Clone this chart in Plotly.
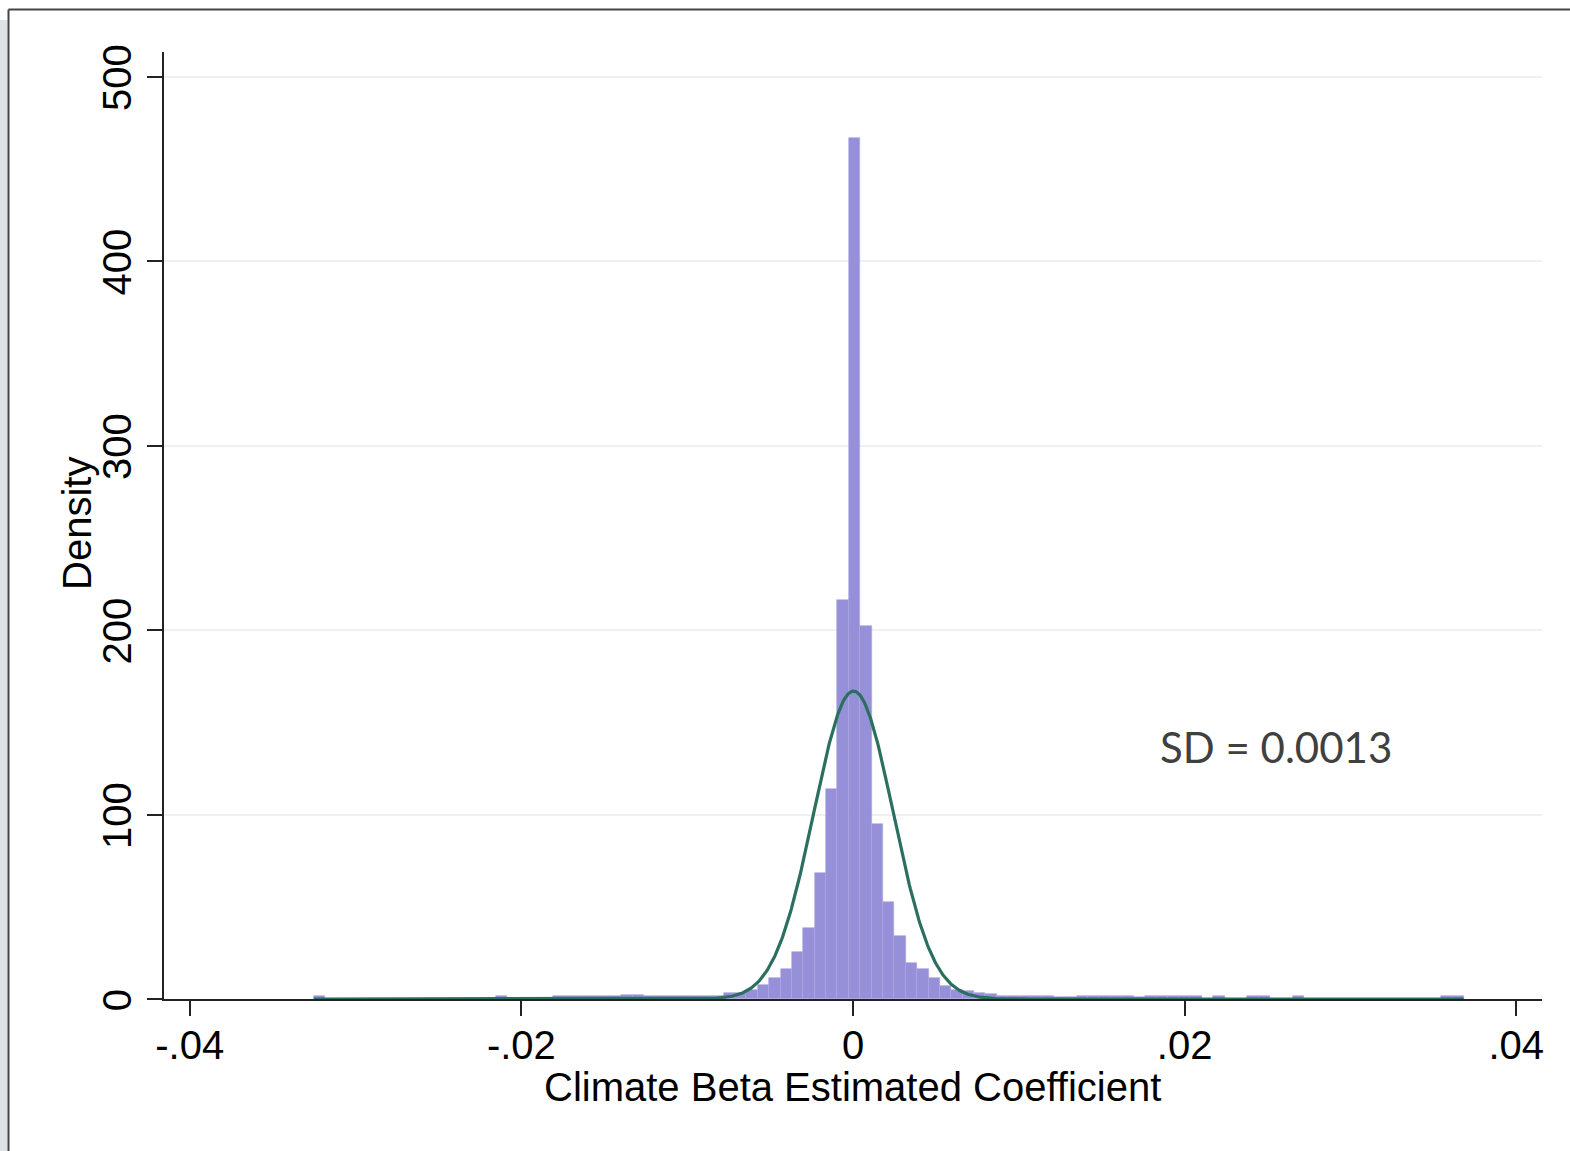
import plotly.graph_objects as go
import numpy as np

# ---- data ----
bin_start = -0.03252      # left edge of first bin
bin_width = 0.0006866     # bin width
density = [
    1.5, 0, 0, 0, 0, 0, 0, 0, 0, 0,            # 0-9
    0, 0, 0, 0, 0, 0, 1.5, 0, 0, 0,            # 10-19
    0, 1.5, 1.5, 1.5, 1.5, 1.5, 1.5, 2.0, 2.0, 1.5,   # 20-29
    1.5, 1.5, 1.5, 1.5, 1.5, 1.8, 3.0, 3.4, 5.0, 7.6,  # 30-39
    11.5, 16.1, 25.3, 38.3, 68.2, 113.7, 216.2, 466.8, 202.0, 95.1,  # 40-49
    52.4, 34.3, 19.5, 16.1, 11.6, 7.0, 4.9, 4.3, 3.4, 2.5,  # 50-59
    1.6, 1.6, 1.5, 1.5, 1.5, 1.0, 1.0, 1.5, 1.5, 1.5,  # 60-69
    1.5, 1.5, 1.0, 1.5, 1.5, 1.5, 1.5, 1.5, 0, 1.5,  # 70-79
    0, 0, 1.5, 1.5, 0, 0, 1.5, 0, 0, 0,        # 80-89
    0, 0, 0, 0, 0, 0, 0, 0, 0, 1.5,            # 90-99
    1.5,                                       # 100
]
normal_mean = 0.00003
normal_sd = 0.00239
sd_label = "SD = 0.0013"
x_title = "Climate Beta Estimated Coefficient"
y_title = "Density"

x_tickvals = [-0.04, -0.02, 0, 0.02, 0.04]
x_ticktext = ["-.04", "-.02", "0", ".02", ".04"]
y_tickvals = [0, 100, 200, 300, 400, 500]
y_ticktext = ["0", "100", "200", "300", "400", "500"]

# ---- derived ----
nb = len(density)
centers = [bin_start + bin_width * (i + 0.5) for i in range(nb)]
bin_end = bin_start + bin_width * nb
xs = np.linspace(bin_start, bin_end, 1200)
ys = np.exp(-0.5 * ((xs - normal_mean) / normal_sd) ** 2) / (normal_sd * np.sqrt(2 * np.pi))

fig = go.Figure()
fig.add_trace(go.Bar(
    x=centers, y=density, width=bin_width,
    marker=dict(color="#9690d8", line=dict(color="#aaa5e6", width=0.6)),
    showlegend=False, hoverinfo="skip",
))
fig.add_trace(go.Scatter(
    x=xs, y=ys, mode="lines",
    line=dict(color="#2b6f5f", width=3.2),
    showlegend=False, hoverinfo="skip",
))

W, H = 1570, 1151
ml, mr, mt, mb = 164, 28, 52, 152
pw, ph = W - ml - mr, H - mt - mb

def px2paper_x(px):
    return (px - ml) / pw

def px2paper_y(py):
    return (H - mb - py) / ph

font_family = "Liberation Sans, Arial, sans-serif"

fig.update_layout(
    width=W, height=H, autosize=False,
    margin=dict(l=ml, r=mr, t=mt, b=mb, pad=0),
    paper_bgcolor="white", plot_bgcolor="white",
    bargap=0,
    font=dict(family=font_family, color="black", size=40),
    xaxis=dict(
        range=[-0.04155, 0.04155],
        tickvals=x_tickvals, ticktext=x_ticktext,
        ticks="outside", ticklen=15, tickwidth=2, tickcolor="#222",
        showline=True, linecolor="#222", linewidth=2,
        showgrid=False, zeroline=False,
        ticklabelstandoff=-5,
        tickfont=dict(size=40, family=font_family, color="black"),
    ),
    yaxis=dict(
        range=[0, 513.4],
        tickvals=y_tickvals, ticktext=y_ticktext, tickangle=-90,
        ticks="outside", ticklen=15, tickwidth=2, tickcolor="#222",
        showline=True, linecolor="#222", linewidth=2,
        showgrid=True, gridcolor="#edf0f5", gridwidth=2,
        zeroline=False,
        ticklabelshift=7,
        tickfont=dict(size=40, family=font_family, color="black"),
    ),
    annotations=[
        dict(x=0.02549, y=136.6, xref="x", yref="y", text=sd_label,
             showarrow=False, xanchor="center", yanchor="middle",
             font=dict(family="Lato, Open Sans, sans-serif", size=42, color="#404040")),
        dict(x=px2paper_x(852), y=px2paper_y(1087), xref="paper", yref="paper",
             text=x_title, showarrow=False, xanchor="center", yanchor="middle",
             font=dict(size=40, family=font_family, color="black")),
        dict(x=px2paper_x(77), y=px2paper_y(524), xref="paper", yref="paper",
             text=y_title, showarrow=False, xanchor="center", yanchor="middle",
             textangle=-90,
             font=dict(size=40, family=font_family, color="black")),
    ],
    shapes=[
        dict(type="rect", xref="paper", yref="paper",
             x0=px2paper_x(0), x1=px2paper_x(7.5), y0=px2paper_y(1160), y1=px2paper_y(20),
             fillcolor="#dfe2e5", line=dict(width=0), layer="below"),
        dict(type="line", xref="paper", yref="paper",
             x0=px2paper_x(8.5), x1=px2paper_x(1580), y0=px2paper_y(9.5), y1=px2paper_y(9.5),
             line=dict(color="#444", width=2)),
        dict(type="line", xref="paper", yref="paper",
             x0=px2paper_x(8.5), x1=px2paper_x(8.5), y0=px2paper_y(9.5), y1=px2paper_y(1160),
             line=dict(color="#444", width=2)),
    ],
)

fig.write_html("out.html")
